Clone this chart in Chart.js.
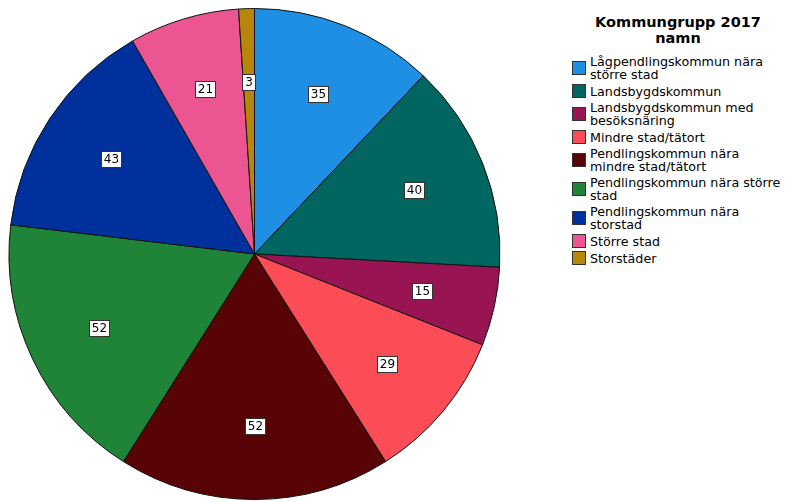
<!DOCTYPE html>
<html>
<head>
<meta charset="utf-8">
<script src="https://cdn.jsdelivr.net/npm/chart.js@4/dist/chart.umd.min.js"></script>
<style>
  body { margin: 0; background: #fff; font-family: "DejaVu Sans", sans-serif; }
  #wrap { position: relative; width: 785px; height: 502px; }
  #pie { position: absolute; left: 0; top: 0; }
  #legend { position: absolute; left: 572px; top: 14px; width: 213px; color: #000; }
  #legend h3 { margin: 0 0 9px 0; font-size: 14.5px; line-height: 16px; text-align: center; width: 212px; font-weight: bold; }
  .item { display: flex; align-items: center; font-size: 12.7px; line-height: 13px; margin-bottom: 3px; }
  .box { width: 12px; height: 12px; border: 1px solid #333; margin-right: 4px; flex: none; }
</style>
</head>
<body>
<div id="wrap">
  <canvas id="pie" width="509" height="502"></canvas>
  <div id="legend"><h3>Kommungrupp 2017<br>namn</h3></div>
</div>
<script>
// kategorier och antal kommuner
const kategorier = [
  ["Lågpendlingskommun nära", "större stad"],
  ["Landsbygdskommun"],
  ["Landsbygdskommun med", "besöksnäring"],
  ["Mindre stad/tätort"],
  ["Pendlingskommun nära", "mindre stad/tätort"],
  ["Pendlingskommun nära större", "stad"],
  ["Pendlingskommun nära", "storstad"],
  ["Större stad"],
  ["Storstäder"]
];
const antal = [35, 40, 15, 29, 52, 52, 43, 21, 3];
const farger = ["#1e8fe3", "#00665f", "#991452", "#fc4d57", "#580305", "#1f8437", "#00309c", "#ea5592", "#b8860b"];

const legend = document.getElementById("legend");
kategorier.forEach((k, i) => {
  const rad = document.createElement("div");
  rad.className = "item";
  rad.innerHTML = '<span class="box" style="background:' + farger[i] + '"></span><span>' + k.join("<br>") + '</span>';
  legend.appendChild(rad);
});

// etiketter i vita rutor
const etiketter = {
  id: "etiketter",
  afterDatasetsDraw(chart) {
    const ctx = chart.ctx;
    const meta = chart.getDatasetMeta(0);
    ctx.save();
    ctx.font = "12px 'DejaVu Sans'";
    ctx.textAlign = "center";
    ctx.textBaseline = "middle";
    meta.data.forEach((arc, i) => {
      const p = arc.getProps(["x", "y", "startAngle", "endAngle", "outerRadius"], true);
      const mid = (p.startAngle + p.endAngle) / 2;
      const r = p.outerRadius * 0.7;
      const x = p.x + Math.cos(mid) * r;
      const y = p.y + Math.sin(mid) * r;
      const txt = String(antal[i]);
      const w = Math.round(ctx.measureText(txt).width + 5);
      const h = 16;
      const bx = Math.round(x - w / 2) + 0.5;
      const by = Math.round(y - h / 2) + 0.5;
      ctx.fillStyle = "#fff";
      ctx.fillRect(bx, by, w, h);
      ctx.strokeStyle = "#333";
      ctx.lineWidth = 1;
      ctx.strokeRect(bx, by, w, h);
      ctx.fillStyle = "#000";
      ctx.fillText(txt, bx + w / 2, by + h / 2 + 0.5);
    });
    ctx.restore();
  }
};

new Chart(document.getElementById("pie"), {
  type: "pie",
  data: {
    labels: kategorier.map(k => k.join(" ")),
    datasets: [{
      data: antal,
      backgroundColor: farger,
      borderColor: "#111",
      borderWidth: 1
    }]
  },
  options: {
    responsive: false,
    animation: false,
    layout: { padding: { top: 8, bottom: 2, left: 4, right: 4 } },
    plugins: {
      legend: { display: false },
      tooltip: { enabled: false }
    }
  },
  plugins: [etiketter]
});
</script>
</body>
</html>
